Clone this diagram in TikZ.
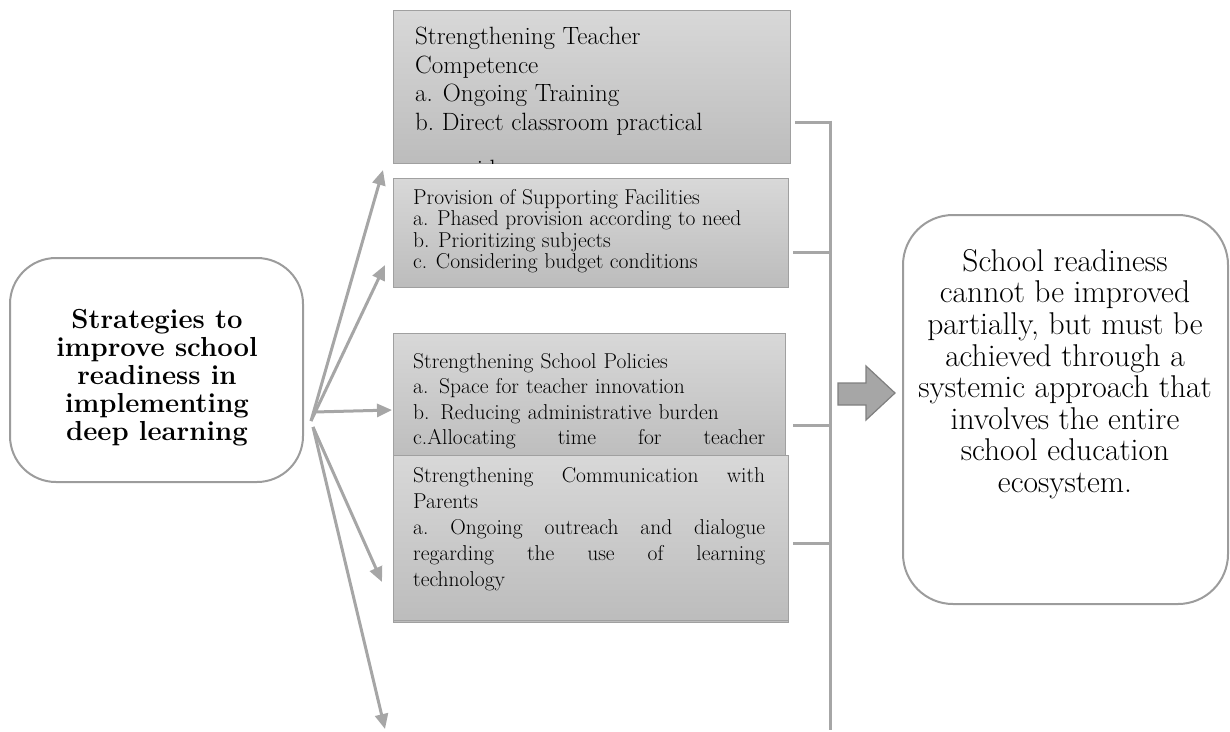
\documentclass[tikz,border=0pt]{standalone}
\usepackage{fontspec}
\usetikzlibrary{arrows.meta}
\definecolor{linegray}{HTML}{A6A6A6}
\definecolor{boxtop}{HTML}{D8D8D8}
\definecolor{boxbot}{HTML}{BCBCBC}
\definecolor{boxedge}{HTML}{A0A0A0}
\definecolor{roundedge}{HTML}{9C9C9C}
\definecolor{barrowfill}{HTML}{A6A6A6}
\definecolor{barrowedge}{HTML}{7F7F7F}
\tikzset{
  graybox/.style={draw=boxedge, line width=1pt, top color=boxtop, bottom color=boxbot, anchor=north west, inner sep=0pt},
  roundbox/.style={draw=roundedge, line width=2pt, fill=white, rounded corners=46pt, inner sep=0pt},
  boxtext/.style={anchor=north west, inner sep=0pt, align=left},
  arr/.style={draw=linegray, line width=3pt, -{Triangle[length=15pt,width=13pt]}},
  brk/.style={draw=linegray, line width=3pt},
}
\begin{document}
\begin{tikzpicture}[x=1pt,y=-1pt]
\useasboundingbox (0,0) rectangle (1230,731);

% left box
\node[roundbox, minimum width=293pt, minimum height=224pt] (left) at (156.5,370) {};
\node[inner sep=0pt, align=center, font=\fontsize{27.5}{28}\selectfont\bfseries] (lefttext) at (157,378)
  {Strategies to\\improve school\\readiness in\\implementing\\deep learning};

% right box
\node[roundbox, rounded corners=50pt, minimum width=325pt, minimum height=389pt] (right) at (1065.5,409.5) {};
\node[inner sep=0pt, align=center, font=\fontsize{31.5}{31.6}\selectfont] (righttext) at (1065,374)
  {School readiness\\cannot be improved\\partially, but must be\\achieved through a\\systemic approach that\\involves the entire\\school education\\ecosystem.};

% box 1
\node[graybox, minimum width=397pt, minimum height=153pt] (b1) at (393,10) {};
\begin{scope}
\clip (393,10) rectangle (790,163);
\node[boxtext, font=\fontsize{25}{28.5}\selectfont] (t1) at (415,27)
  {Strengthening Teacher\\Competence\\a. Ongoing Training\\b.\ Direct classroom practical\\[19pt]\hspace*{1.5em}guidance};
\end{scope}

% box 2
\node[graybox, minimum width=395pt, minimum height=109pt] (b2) at (393,178) {};
\node[boxtext, font=\fontsize{21.5}{21.5}\selectfont] (t2) at (413,189)
  {Provision of Supporting Facilities\\a. Phased provision according to need\\b. Prioritizing subjects\\c. Considering budget conditions};

% box 3
\node[graybox, minimum width=392pt, minimum height=130pt] (b3) at (393,333) {};
\node[boxtext, text width=352pt, font=\fontsize{21.5}{25.5}\selectfont] (t3) at (413,353)
  {Strengthening School Policies\\a. Space for teacher innovation\\b. Reducing administrative burden\\c.Allocating\hfill time\hfill for\hfill teacher\\};

% box 4
\node[graybox, minimum width=395pt, minimum height=167pt] (b4) at (393,455) {};
\draw[draw=boxedge, line width=1pt] (b4.south west) ++(0,-3) -- ++(395,0);
\node[boxtext, text width=352pt, font=\fontsize{21.5}{26}\selectfont] (t4) at (413,467)
  {Strengthening\hfill Communication\hfill with\\Parents\\a.\hfill Ongoing\hfill outreach\hfill and\hfill dialogue\\regarding\hfill the\hfill use\hfill of\hfill learning\\technology};

% arrows
\coordinate (o1) at (311,421);
\coordinate (o2) at (314,412);
\coordinate (o3) at (313,427);
\coordinate (p1) at (383,170);
\coordinate (p2) at (385,265);
\coordinate (p3) at (392,410);
\coordinate (p4) at (382,582);
\coordinate (p5) at (385,729);
\draw[arr] (o1) -- (p1);
\draw[arr] (o1) -- (p2);
\draw[arr] (o2) -- (p3);
\draw[arr] (o3) -- (p4);
\draw[arr] (o3) -- (p5);

% bracket
\coordinate (k1) at (795,122);
\coordinate (k2) at (793,252);
\coordinate (k3) at (793,425);
\coordinate (k4) at (793,543);
\coordinate (ktop) at (830,122);
\coordinate (kbot) at (830,730);
\draw[brk] (k1) -- (ktop);
\draw[brk] (k2) -- (k2 -| ktop);
\draw[brk] (k3) -- (k3 -| ktop);
\draw[brk] (k4) -- (k4 -| ktop);
\draw[brk] ([yshift=1.5pt]ktop) -- (kbot);

% block arrow
\draw[fill=barrowfill, draw=barrowedge, line width=1.2pt]
  (838,383) -- (866,383) -- (866,366) -- (895,393) -- (866,420) -- (866,405) -- (838,405) -- cycle;
\end{tikzpicture}
\end{document}
